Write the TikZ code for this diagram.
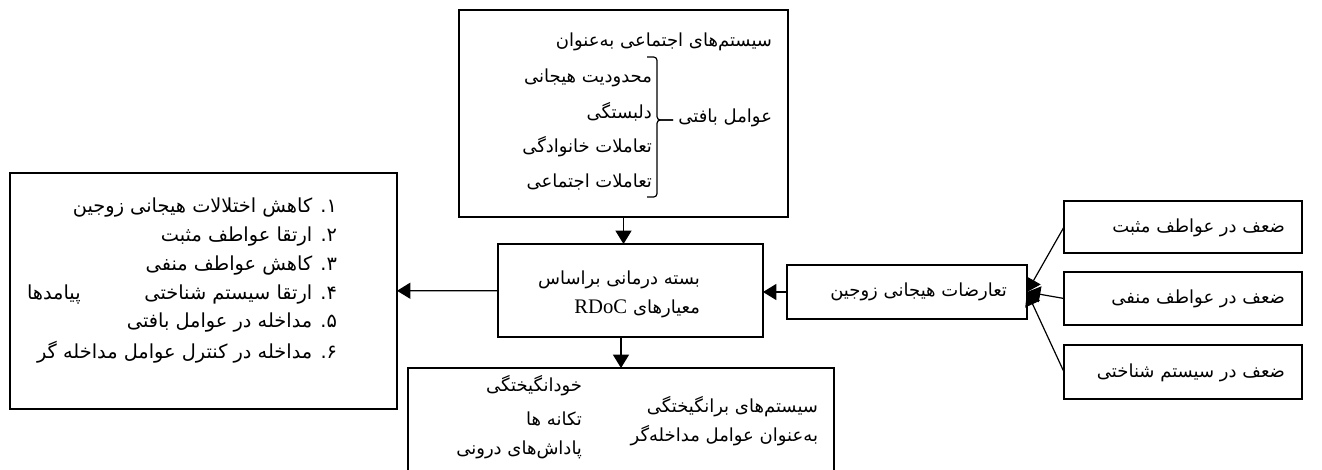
\documentclass[tikz,border=0pt]{standalone}
\usepackage{fontspec}
\usepackage{tikz,tkz-graph}
\usetikzlibrary{arrows.meta}
\newfontfamily\persianfont[Script=Arabic]{DejaVu Sans}
\newfontfamily\latinfont{Liberation Serif}
\TeXXeTstate=1
\tikzstyle{boxStyle}=[shape = rectangle, draw, line width = 0.9pt, inner sep = 0pt]
\tikzstyle{faText}=[anchor = east, inner sep = 0pt, font = \persianfont\fontsize{13.5}{16}\selectfont]
\tikzstyle{faListText}=[anchor = east, inner sep = 0pt, font = \persianfont\fontsize{14.5}{17}\selectfont]

\begin{document}
\begin{tikzpicture}[x = 0.75pt, y = -0.75pt]
\tikzstyle{VertexStyle} = []
\tikzstyle{EdgeStyle} = []
\tikzstyle{LabelStyle} = []
\tikzstyle{arrowStyle} = [line width = 0.9pt, -{Triangle[length = 10pt, width = 12pt]}]
\tikzstyle{braceStyle} = [line width = 0.9pt, rounded corners = 2.5pt]
\useasboundingbox (0,0) rectangle (1322,470);
\clip (0,0) rectangle (1322,470);
% boxes
\Vertex[style = {boxStyle, minimum width = 246.75pt, minimum height = 155.25pt}, x = 623.5, y = 113.5, NoLabel]{social}
\Vertex[style = {boxStyle, minimum width = 290.25pt, minimum height = 177pt}, x = 203.5, y = 291, NoLabel]{outcome}
\Vertex[style = {boxStyle, minimum width = 198.75pt, minimum height = 69.75pt}, x = 630.5, y = 290.5, NoLabel]{package}
\Vertex[style = {boxStyle, minimum width = 180pt, minimum height = 40.5pt}, x = 907, y = 292, NoLabel]{conflict}
\Vertex[style = {boxStyle, minimum width = 178.5pt, minimum height = 39pt}, x = 1183, y = 227, NoLabel]{weakPos}
\Vertex[style = {boxStyle, minimum width = 178.5pt, minimum height = 39.75pt}, x = 1183, y = 298.5, NoLabel]{weakNeg}
\Vertex[style = {boxStyle, minimum width = 178.5pt, minimum height = 40.5pt}, x = 1183, y = 372, NoLabel]{weakCog}
\Vertex[style = {boxStyle, minimum width = 319.5pt, minimum height = 105pt}, x = 621, y = 438, NoLabel]{arousal}
% social systems
\Vertex[style = faText, x = 772, y = 42, L = {\beginR سیستم‌های اجتماعی به‌عنوان\endR}]{socTitle}
\Vertex[style = faText, x = 772, y = 118, L = {\beginR عوامل بافتی\endR}]{socLabel}
\Vertex[style = faText, x = 652, y = 78, L = {\beginR محدودیت هیجانی\endR}]{socA}
\Vertex[style = faText, x = 652, y = 112, L = {\beginR دلبستگی\endR}]{socB}
\Vertex[style = faText, x = 652, y = 147, L = {\beginR تعاملات خانوادگی\endR}]{socC}
\Vertex[style = faText, x = 652, y = 182, L = {\beginR تعاملات اجتماعی\endR}]{socD}
\draw[braceStyle] (647,57) -- (657,57) -- (657,120) -- (673,120);
\draw[braceStyle] (673,120) -- (657,120) -- (657,197) -- (647,197);
% outcomes
\Vertex[style = faListText, x = 337, y = 208, L = {\beginR ۱. کاهش اختلالات هیجانی زوجین\endR}]{outA}
\Vertex[style = faListText, x = 337, y = 237, L = {\beginR ۲. ارتقا عواطف مثبت\endR}]{outB}
\Vertex[style = faListText, x = 337, y = 266, L = {\beginR ۳. کاهش عواطف منفی\endR}]{outC}
\Vertex[style = faListText, x = 337, y = 295, L = {\beginR ۴. ارتقا سیستم شناختی\endR}]{outD}
\Vertex[style = faListText, x = 337, y = 323, L = {\beginR ۵. مداخله در عوامل بافتی\endR}]{outE}
\Vertex[style = faListText, x = 337, y = 352, L = {\beginR ۶. مداخله در کنترل عوامل مداخله گر\endR}]{outF}
\Vertex[style = {faListText, anchor = west}, x = 27, y = 295, L = {\beginR پیامدها\endR}]{outLabel}
% package
\Vertex[style = faText, x = 700, y = 280, L = {\beginR بسته درمانی براساس\endR}]{pkgA}
\Vertex[style = faText, x = 700, y = 309, L = {\beginR معیارهای {\latinfont\fontsize{15.5}{18}\selectfont\beginL RDoC\endL}\endR}]{pkgB}
% conflicts and weaknesses
\Vertex[style = faText, x = 1007, y = 292, L = {\beginR تعارضات هیجانی زوجین\endR}]{confText}
\Vertex[style = faText, x = 1285, y = 228, L = {\beginR ضعف در عواطف مثبت\endR}]{posText}
\Vertex[style = faText, x = 1285, y = 299, L = {\beginR ضعف در عواطف منفی\endR}]{negText}
\Vertex[style = faText, x = 1285, y = 373, L = {\beginR ضعف در سیستم شناختی\endR}]{cogText}
% arousal
\Vertex[style = faText, x = 582, y = 386, L = {\beginR خودانگیختگی\endR}]{arA}
\Vertex[style = faText, x = 582, y = 419, L = {\beginR تکانه ها\endR}]{arB}
\Vertex[style = faText, x = 582, y = 450, L = {\beginR پاداش‌های درونی\endR}]{arC}
\Vertex[style = faText, x = 818, y = 407, L = {\beginR سیستم‌های برانگیختگی\endR}]{arD}
\Vertex[style = faText, x = 818, y = 436, L = {\beginR به‌عنوان عوامل مداخله‌گر\endR}]{arE}
% arrows
\draw[arrowStyle] (social.south) -- (social.south |- package.north);
\draw[arrowStyle] (arousal.north |- package.south) -- (arousal.north);
\Edge[style = arrowStyle](package)(outcome)
\draw[arrowStyle] (conflict.west) -- (conflict.west -| package.east);
\draw[arrowStyle] (weakPos.west) -- (conflict.east);
\draw[arrowStyle] (weakNeg.west) -- (conflict.east);
\draw[arrowStyle] (weakCog.west) -- (conflict.east);
\end{tikzpicture}
\end{document}
